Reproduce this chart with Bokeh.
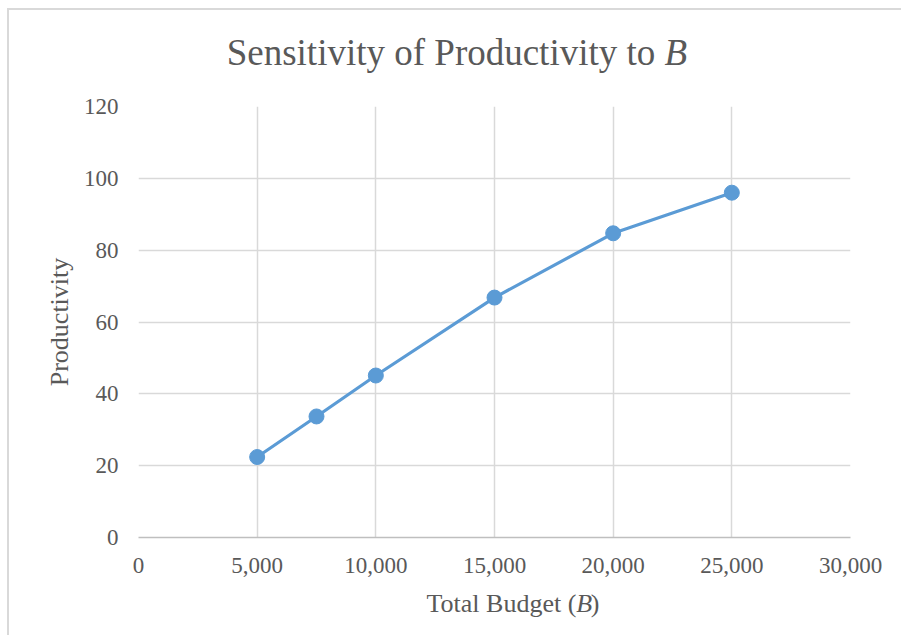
from bokeh.plotting import figure
from bokeh.layouts import column
from bokeh.models import Range1d, FixedTicker, NumeralTickFormatter
from bokeh.core.properties import value
from bokeh.embed import file_html
from bokeh.resources import INLINE

budget = [5000, 7500, 10000, 15000, 20000, 25000]
productivity = [22.4, 33.7, 45.1, 66.8, 84.7, 96.0]
x_ticks = [0, 5000, 10000, 15000, 20000, 25000, 30000]
y_ticks = [0, 20, 40, 60, 80, 100, 120]
title_parts = ["Sensitivity of Productivity to ", "B"]
xtitle_parts = ["Total Budget (", "B", ")"]
ytitle = "Productivity"

FONT = "Liberation Serif"
TXT = "#595959"
W = 892
H_TOP, H_MAIN, H_BOT = 80, 500, 45


def text_fig(h):
    f = figure(width=W, height=h, output_backend="svg", toolbar_location=None,
               x_range=Range1d(0, W), y_range=Range1d(0, h),
               min_border=0, min_border_left=0, min_border_right=0,
               min_border_top=0, min_border_bottom=0)
    f.axis.visible = False
    f.grid.visible = False
    f.outline_line_color = None
    f.background_fill_color = "white"
    f.border_fill_color = "white"
    return f


def put(f, x, y, txt, size, style="normal", align="left"):
    f.text(x=[x], y=[y], text=[txt], text_font=value(FONT), text_font_size=size,
           text_font_style=style, text_color=TXT, text_align=align,
           text_baseline="alphabetic")


# ---- title strip ----
top = text_fig(H_TOP)
put(top, 659, 38, title_parts[0], "37px", align="right")
put(top, 659, 38, title_parts[1], "37px", style="italic")

# ---- main chart ----
p = figure(width=W, height=H_MAIN, output_backend="svg", toolbar_location=None,
           x_range=Range1d(0, 30000), y_range=Range1d(0, 120),
           min_border_left=129, min_border_right=51,
           min_border_top=16, min_border_bottom=53)
p.outline_line_color = None
p.background_fill_color = "white"
p.border_fill_color = "white"

p.xaxis.ticker = FixedTicker(ticks=x_ticks)
p.yaxis.ticker = FixedTicker(ticks=y_ticks)
p.xaxis.formatter = NumeralTickFormatter(format="0,0")
for ax in (p.xaxis[0], p.yaxis[0]):
    ax.major_tick_line_color = None
    ax.minor_tick_line_color = None
    ax.major_tick_out = 0
    ax.major_tick_in = 0
    ax.major_label_text_font = FONT
    ax.major_label_text_font_size = "23px"
    ax.major_label_text_color = TXT
p.xaxis.axis_line_color = "#bfbfbf"
p.xaxis.axis_line_width = 1.5
p.yaxis.axis_line_color = None
p.xaxis.major_label_standoff = 20
p.yaxis.major_label_standoff = 20
p.yaxis.axis_label = ytitle
p.yaxis.axis_label_text_font = FONT
p.yaxis.axis_label_text_font_size = "26px"
p.yaxis.axis_label_text_font_style = "normal"
p.yaxis.axis_label_text_color = TXT
p.yaxis.axis_label_standoff = 7

p.xgrid.grid_line_color = "#d9d9d9"
p.ygrid.grid_line_color = "#d9d9d9"
p.xgrid.grid_line_width = 1.5
p.ygrid.grid_line_width = 1.5

p.line(budget, productivity, line_color="#5b9bd5", line_width=3.2)
p.scatter(budget, productivity, size=15, fill_color="#5b9bd5", line_color="#5b9bd5")

# ---- x-axis title strip ----
bot = text_fig(H_BOT)
put(bot, 548.5, 32, xtitle_parts[0], "26px", align="right")
put(bot, 548.5, 32, xtitle_parts[1], "26px", style="italic")
put(bot, 566.5, 32, xtitle_parts[2], "26px")

layout = column(top, p, bot, spacing=0,
                styles={"margin-left": "7px", "margin-top": "8px",
                        "border-left": "2px solid #d9d9d9",
                        "border-top": "2px solid #d9d9d9"})

open("out.html", "w").write(file_html(layout, INLINE))
